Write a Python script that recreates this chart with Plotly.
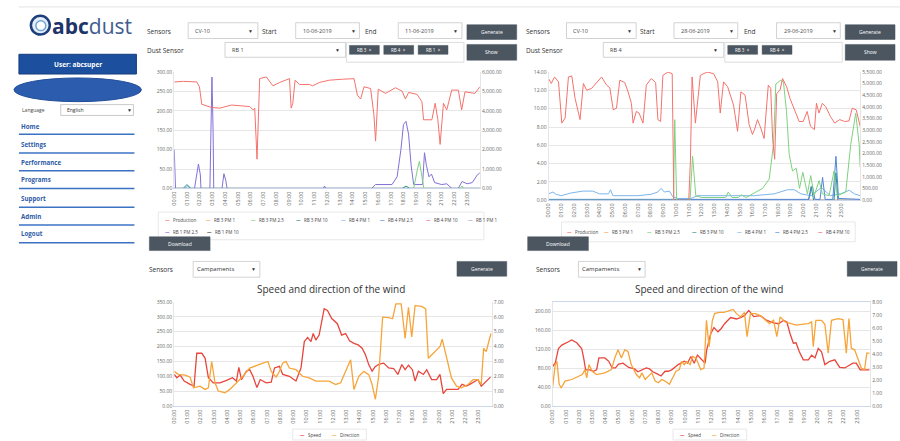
import plotly.graph_objects as go

W, H = 900, 441
def X(p): return p / W
def Y(p): return 1 - p / H

FONT = "Open Sans"

# ---------------- data ----------------
hour_ticks = [0, 1, 2, 3, 4, 5, 6, 7, 8, 9, 10, 11, 12, 13, 14, 15, 16, 17, 18, 19, 20, 21, 22, 23]
hour_labels = ["00:00", "01:00", "02:00", "03:00", "04:00", "05:00", "06:00", "07:00",
               "08:00", "09:00", "10:00", "11:00", "12:00", "13:00", "14:00", "15:00",
               "16:00", "17:00", "18:00", "19:00", "20:00", "21:00", "22:00", "23:00"]

# Chart 1 (CV-10, 10-06-2019 .. 11-06-2019)
c1_prod_t = [0.00, 0.73, 1.77, 1.98, 2.16, 2.55, 2.94, 3.59, 4.11, 4.50, 5.41, 5.93, 6.19, 6.32, 6.50,
             6.71, 7.23, 7.75, 8.27, 9.05, 9.18, 9.31, 9.49, 9.83, 10.61, 10.87, 11.39, 12.17, 13.21,
             14.12, 14.38, 14.64, 14.90, 15.42, 15.68, 15.81, 16.02, 16.59, 17.37, 17.89, 18.15, 18.41,
             19.06, 19.45, 19.58, 20.23, 20.49, 20.70, 20.88, 21.14, 21.40, 21.79, 22.31, 22.57, 22.83,
             23.61, 24.00]
c1_prod_v = [5490, 5520, 5490, 5240, 4340, 4270, 4170, 4140, 4250, 4300, 4250, 4220, 4050, 4140, 1510,
             5660, 5750, 5290, 5460, 5660, 4140, 4390, 5580, 5360, 5360, 5290, 5460, 5580, 5630,
             5660, 4810, 4610, 5240, 5150, 3800, 2440, 5120, 4900, 5190, 5020, 4610, 4950,
             4850, 4470, 3540, 3540, 4390, 3540, 2270, 4390, 4050, 5070, 5070, 4050, 4980,
             4900, 5240]
c1_rb1_pm25_t = [0.00, 0.10, 1.59, 1.82, 1.90, 2.05, 2.10, 2.80, 2.90, 2.96, 3.05, 3.10, 3.75, 3.90, 4.05,
                 4.15, 11.70, 11.80, 11.90, 15.50, 15.80, 17.10, 17.50, 17.80, 18.00, 18.20, 18.40, 18.60,
                 18.80, 19.50, 19.65, 19.80, 20.00, 20.20, 20.45, 21.00, 21.40, 21.80, 22.30, 22.60, 23.00,
                 23.40, 23.80, 24.00]
c1_rb1_pm25_v = [100, 0, 0, 40, 63, 35, 0, 0, 200, 287, 150, 0, 0, 38, 20,
                 0, 0, 6, 0, 0, 10, 10, 30, 100, 165, 173, 140, 60,
                 10, 10, 92, 60, 30, 37, 15, 10, 12, 0, 0, 18, 12,
                 15, 35, 40]
c1_rb3_pm25_t = [0.00, 18.80, 19.10, 19.25, 19.45, 19.60, 22.45, 22.60, 22.75, 24.00]
c1_rb3_pm25_v = [0, 0, 50, 70, 30, 0, 0, 6, 0, 0]
c1_rb3_pm10_t = [0.00, 0.70, 1.00, 1.30, 17.90, 18.20, 18.50, 24.00]
c1_rb3_pm10_v = [0, 0, 10, 0, 0, 6, 0, 0]
c1_rb4_pm1_t = [0.00, 0.80, 1.05, 1.30, 24.00]
c1_rb4_pm1_v = [0, 0, 6, 0, 0]
c1_flat_t = [0.00, 24.00]
c1_flat_v = [0, 0]

# Chart 2 (CV-10, 28-06-2019 .. 29-06-2019)
c2_prod_t = [0.00, 0.21, 0.47, 0.78, 1.04, 1.30, 1.56, 1.82, 2.08, 2.47,
             2.73, 2.99, 3.38, 3.90, 4.16, 4.55, 4.81, 5.07, 5.33, 5.59,
             5.98, 6.24, 6.50, 6.63, 6.89, 7.10, 7.41, 7.67, 8.06, 8.40,
             8.58, 8.79, 8.97, 9.36, 9.70, 9.83, 11.00, 11.13, 11.26, 11.52,
             11.91, 12.43, 12.95, 13.27, 13.47, 13.73, 14.05, 14.51, 14.83, 15.09,
             15.42, 15.74, 16.00, 16.20, 16.39, 16.65, 16.91, 17.24, 17.43, 17.58,
             17.74, 17.90, 18.16, 18.36, 18.68, 18.94, 19.33, 19.66, 19.98, 20.29,
             20.55, 20.86, 21.02, 21.22, 21.48, 21.74, 22.11, 22.45, 22.84, 23.23,
             23.57, 23.83, 24.14, 24.45]
c2_prod_v = [5220, 5010, 5290, 5080, 3310, 3530, 5290, 5330, 4370, 3460,
             5010, 4720, 4800, 5150, 5290, 4940, 4820, 3880, 3950, 5150,
             5050, 4650, 4160, 3310, 3810, 3740, 3310, 4940, 5220, 5050,
             3460, 3380, 5360, 5500, 5430, 0, 0, 1690, 5290, 3310,
             5360, 5500, 5430, 5080, 3740, 5080, 4870, 4090, 2960, 4650,
             4510, 3240, 2820, 3100, 3460, 3100, 2650, 4940, 4800, 2650,
             1760, 4580, 4720, 5220, 4870, 4370, 3810, 3380, 3380, 3810,
             3170, 3030, 4160, 3740, 4160, 4020, 3600, 3310, 3460, 3380,
             3400, 3950, 3880, 3170]
c2_rb3_pm25_t = [0.00, 9.80, 9.90, 10.05, 11.10, 11.30, 11.55, 12.00, 13.90, 14.10,
                 14.40, 14.90, 15.10, 15.50, 16.79, 17.31, 17.65, 17.83, 18.22, 18.43,
                 18.67, 18.88, 19.14, 19.43, 19.69, 19.95, 20.31, 20.57, 20.84, 21.23,
                 21.49, 22.01, 22.40, 22.66, 23.32, 23.71, 24.10, 24.37, 24.45]
c2_rb3_pm25_v = [0, 0, 8.8, 0, 0, 4.8, 0.5, 0.3, 0.3, 0.9,
                 0.3, 0.3, 0.6, 0.3, 1.3, 2.3, 6.1, 12.7, 13.1, 12.9,
                 9.7, 5.0, 3.2, 3.5, 1.3, 3.05, 0.7, 2.7, 0.5, 2.15,
                 0.7, 0.5, 3.2, 0.5, 0.9, 6.1, 9.5, 6.1, 3.6]
c2_rb4_pm1_t = [0.00, 0.34, 0.60, 0.99, 1.77, 2.69, 3.47, 4.00, 4.70, 4.86,
                5.04, 6.20, 7.00, 8.04, 8.57, 8.83, 9.09, 9.48, 9.74, 10.13,
                11.18, 11.70, 13.50, 16.10, 17.70, 18.75, 19.27, 19.80, 20.60, 21.40,
                22.10, 22.90, 23.60, 24.00, 24.45]
c2_rb4_pm1_v = [0.7, 0.9, 0.65, 0.5, 0.8, 1.0, 1.0, 0.7, 0.7, 1.15,
                0.5, 0.5, 0.5, 0.65, 0.9, 1.3, 0.9, 1.0, 0.4, 0.2,
                0.2, 0.5, 0.5, 0.5, 0.7, 1.15, 1.15, 0.7, 0.5, 1.4,
                0.5, 0.7, 1.1, 0.7, 0.5]
c2_rb4_pm25_t = [0.00, 20.40, 20.70, 20.90, 21.30, 21.50, 21.70, 22.30, 22.55, 22.75, 24.45]
c2_rb4_pm25_v = [0.1, 0.1, 1.6, 0.1, 0.1, 2.5, 0.1, 0.1, 4.8, 0.2, 0.1]
c2_rb3_pm10_t = [0.00, 20.40, 20.60, 20.80, 22.40, 22.55, 22.70, 24.45]
c2_rb3_pm10_v = [0, 0, 1.5, 0, 0, 3.0, 0, 0]
c2_flat_t = [0.00, 24.45]
c2_flat_v = [0, 0]

# Chart 3 (wind, left)
c3_dir_t = [0.0, 0.2, 0.45, 0.75, 1.2, 1.5, 1.7, 2.08, 2.33, 2.58,
            2.95, 3.45, 3.95, 4.4, 4.7, 4.88, 5.08, 5.45, 5.7, 5.95,
            6.25, 6.5, 6.95, 7.33, 7.58, 7.95, 8.2, 8.7, 9.2, 9.58,
            9.83, 10.08, 10.33, 10.5, 10.7, 10.95, 11.33, 11.58, 11.9, 12.33,
            12.65, 12.95, 13.25, 13.58, 13.9, 14.2, 14.45, 14.7, 14.95, 15.2,
            15.5, 15.83, 16.2, 16.58, 16.9, 17.2, 17.45, 17.7, 18.0, 18.2,
            18.45, 18.83, 19.08, 19.45, 19.83, 20.08, 20.33, 20.58, 20.95, 21.45,
            21.75, 22.08, 22.33, 22.7, 22.95, 23.2, 23.58, 23.9]
c3_dir_v = [107, 96, 105, 85, 74, 68, 178, 178, 162, 96,
            79, 79, 87, 96, 85, 131, 90, 118, 123, 101,
            63, 90, 79, 81, 129, 134, 107, 101, 85, 129,
            217, 231, 217, 244, 222, 239, 327, 321, 294, 277,
            239, 244, 220, 211, 206, 195, 173, 140, 118, 134,
            142, 145, 129, 127, 107, 140, 123, 138, 123, 85,
            118, 107, 123, 90, 90, 107, 43, 57, 57, 57,
            74, 68, 74, 85, 90, 68, 85, 98]
c3_spd_t = [0.0, 0.33, 0.83, 1.2, 1.45, 1.95, 2.33, 2.58, 2.83, 3.08,
            3.33, 3.83, 4.2, 4.7, 5.2, 5.7, 6.2, 6.7, 7.08, 7.33,
            7.7, 7.95, 8.2, 8.45, 8.7, 9.2, 9.7, 10.2, 10.7, 11.7,
            12.2, 12.58, 12.95, 13.33, 13.58, 13.95, 14.33, 14.7, 14.95, 15.2,
            15.45, 15.65, 15.75, 16.2, 16.5, 16.75, 17.15, 17.45, 17.7, 17.95,
            18.2, 18.7, 19.0, 19.2, 19.7, 20.08, 20.25, 20.58, 20.95, 21.33,
            21.7, 22.2, 22.58, 22.95, 23.2, 23.38, 23.58, 23.83, 23.95]
c3_spd_v = [2.35, 2.13, 2.1, 1.96, 1.25, 1.36, 1.14, 1.25, 3.01, 1.58,
            1.03, 0.92, 1.14, 1.58, 2.02, 2.57, 2.75, 2.9, 3.01, 2.35,
            1.96, 2.35, 2.9, 3.01, 2.57, 2.46, 2.02, 1.91, 1.69, 1.69,
            1.47, 1.58, 2.35, 3.12, 1.14, 2.02, 2.35, 2.13, 1.47, 0.48,
            2.02, 4.55, 5.98, 5.94, 5.87, 6.86, 6.86, 4.55, 6.64, 4.66,
            6.75, 6.7, 6.53, 3.23, 3.67, 4.0, 4.5, 3.23, 1.91, 1.36,
            1.25, 1.47, 1.8, 1.8, 1.47, 3.89, 3.67, 4.55, 4.88]

# Chart 4 (wind, right)
c4_dir_t = [0.0, 0.2, 0.45, 0.7, 1.2, 1.45, 1.83, 2.2, 2.35, 2.5,
            2.83, 3.08, 3.33, 3.5, 3.95, 4.25, 4.5, 4.75, 5.0, 5.33,
            5.75, 6.2, 6.45, 6.75, 7.08, 7.33, 7.58, 7.95, 8.2, 8.5,
            8.75, 9.0, 9.25, 9.5, 9.95, 10.2, 10.45, 10.7, 10.95, 11.33,
            11.53, 11.65, 11.95, 12.2, 12.5, 12.75, 13.0, 13.45, 13.9, 14.2,
            14.5, 14.83, 15.2, 15.7, 16.2, 16.7, 17.08, 17.45, 17.7, 17.95,
            18.2, 18.4, 18.65, 18.95, 19.33, 19.58, 19.83, 20.08, 20.33, 20.58,
            20.95, 21.33, 21.7, 22.08, 22.45, 22.7, 22.95, 23.25, 23.58, 23.95]
c4_dir_v = [84, 91, 122, 129, 136, 140, 134, 122, 102, 77,
            77, 74, 77, 102, 102, 95, 81, 81, 89, 91,
            82, 79, 73, 77, 81, 79, 73, 68, 64, 74,
            74, 77, 82, 88, 95, 91, 105, 91, 108, 96,
            91, 119, 153, 166, 157, 164, 174, 187, 184, 187,
            191, 202, 189, 191, 181, 176, 174, 181, 178, 153,
            133, 134, 115, 98, 98, 108, 102, 122, 115, 88,
            95, 98, 82, 81, 88, 91, 91, 77, 77, 77]
c4_spd_t = [0.0, 0.2, 0.33, 0.5, 0.65, 0.95, 1.45, 1.95, 2.25, 2.45,
            2.58, 2.75, 3.0, 3.33, 3.95, 4.45, 4.7, 4.95, 5.2, 5.45,
            5.7, 5.95, 6.33, 6.58, 6.75, 7.0, 7.25, 7.5, 7.75, 8.0,
            8.25, 8.5, 8.83, 9.08, 9.33, 9.58, 9.75, 9.95, 10.15, 10.4,
            10.58, 10.83, 11.2, 11.45, 11.63, 11.83, 12.08, 12.25, 12.58, 12.95,
            13.33, 13.65, 13.9, 14.2, 14.5, 14.7, 14.95, 15.33, 15.7, 16.08,
            16.4, 16.7, 16.95, 17.2, 17.58, 18.0, 18.45, 18.95, 19.33, 19.58,
            19.7, 19.9, 20.33, 20.58, 20.83, 21.08, 21.58, 21.95, 22.2, 22.4,
            22.58, 22.83, 23.08, 23.33, 23.58, 23.75, 23.95]
c4_spd_v = [1.43, 3.2, 3.45, 1.69, 1.43, 1.94, 2.06, 2.32, 2.44, 2.82,
            2.19, 3.2, 2.69, 2.44, 2.57, 2.82, 3.7, 4.33, 3.7, 4.33,
            4.2, 3.2, 2.44, 2.19, 2.57, 2.06, 2.32, 2.57, 1.94, 1.81,
            2.06, 1.94, 1.69, 2.19, 2.69, 2.82, 3.45, 3.2, 3.45, 3.2,
            3.83, 3.7, 2.82, 2.94, 6.59, 4.58, 6.59, 7.1, 7.2, 7.2,
            7.35, 7.42, 7.1, 6.85, 7.2, 5.34, 7.1, 7.1, 6.95, 6.59,
            6.34, 6.59, 5.34, 6.85, 6.47, 6.34, 6.22, 6.29, 6.34, 6.47,
            4.58, 6.59, 6.59, 6.29, 4.08, 6.59, 6.72, 6.64, 4.08, 6.72,
            4.45, 4.33, 3.7, 2.94, 2.82, 4.08, 4.08]

colors = {
    "Production": "#f4726c",
    "RB 3 PM 1": "#f7a35c",
    "RB 3 PM 2.5": "#7fd17f",
    "RB 3 PM 10": "#2b908f",
    "RB 4 PM 1": "#7cb5ec",
    "RB 4 PM 2.5": "#4f86d6",
    "RB 4 PM 10": "#f15c80",
    "RB 1 PM 1": "#a3a3c8",
    "RB 1 PM 2.5": "#8071d6",
    "RB 1 PM 10": "#434348",
}
wind_colors = {"Speed": "#e8453c", "Direction": "#f7a438"}

menu_items = ["Home", "Settings", "Performance", "Programs", "Support", "Admin", "Logout"]

# ---------------- figure ----------------
fig = go.Figure()

def line(t, v, color, xa, ya, name, width=1.0):
    fig.add_trace(go.Scatter(x=t, y=v, mode="lines", name=name, showlegend=False,
                             line=dict(color=color, width=width), xaxis=xa, yaxis=ya,
                             hoverinfo="skip"))

# chart 1
for nm in ["RB 3 PM 1", "RB 4 PM 2.5", "RB 4 PM 10", "RB 1 PM 1", "RB 1 PM 10"]:
    line(c1_flat_t, c1_flat_v, colors[nm], "x", "y", nm)
line(c1_rb4_pm1_t, c1_rb4_pm1_v, colors["RB 4 PM 1"], "x", "y", "RB 4 PM 1")
line(c1_rb3_pm10_t, c1_rb3_pm10_v, colors["RB 3 PM 10"], "x", "y", "RB 3 PM 10")
line(c1_rb1_pm25_t, c1_rb1_pm25_v, colors["RB 1 PM 2.5"], "x", "y", "RB 1 PM 2.5")
line(c1_rb3_pm25_t, c1_rb3_pm25_v, colors["RB 3 PM 2.5"], "x", "y", "RB 3 PM 2.5")
line(c1_prod_t, c1_prod_v, colors["Production"], "x", "y2", "Production")

# chart 2
for nm in ["RB 3 PM 1", "RB 4 PM 10"]:
    line(c2_flat_t, c2_flat_v, colors[nm], "x2", "y3", nm)
line(c2_rb4_pm1_t, c2_rb4_pm1_v, colors["RB 4 PM 1"], "x2", "y3", "RB 4 PM 1")
line(c2_rb3_pm10_t, c2_rb3_pm10_v, colors["RB 3 PM 10"], "x2", "y3", "RB 3 PM 10")
line(c2_rb4_pm25_t, c2_rb4_pm25_v, colors["RB 4 PM 2.5"], "x2", "y3", "RB 4 PM 2.5")
line(c2_rb3_pm25_t, c2_rb3_pm25_v, colors["RB 3 PM 2.5"], "x2", "y3", "RB 3 PM 2.5")
line(c2_prod_t, c2_prod_v, colors["Production"], "x2", "y4", "Production")

# chart 3 / 4
line(c3_spd_t, c3_spd_v, wind_colors["Direction"], "x3", "y6", "Direction", 1.3)
line(c3_dir_t, c3_dir_v, wind_colors["Speed"], "x3", "y5", "Speed", 1.3)
line(c4_spd_t, c4_spd_v, wind_colors["Direction"], "x4", "y8", "Direction", 1.3)
line(c4_dir_t, c4_dir_v, wind_colors["Speed"], "x4", "y7", "Speed", 1.3)

TICKF = dict(family=FONT, size=5, color="#666666")

def xax(d0, d1, anchor, rng, mirror=False):
    return dict(domain=[X(d0), X(d1)], anchor=anchor, range=rng, tickmode="array",
                tickvals=hour_ticks, ticktext=hour_labels, tickangle=-90,
                tickfont=dict(family=FONT, size=5.5, color="#666666"),
                showgrid=False, zeroline=False, showline=True, linecolor="#ccd6eb",
                linewidth=1, ticks="", mirror=mirror, fixedrange=True)

def yax(top, bot, anchor, rng, dtick, fmt, grid=True, side="left", overlay=None):
    d = dict(anchor=anchor, range=rng, dtick=dtick, tick0=0, tickformat=fmt, tickfont=TICKF,
             showgrid=grid, gridcolor="#e6e6e6", gridwidth=1, zeroline=False,
             showline=True, linecolor="#e6e6e6", ticks="", side=side, fixedrange=True)
    if overlay:
        d["overlaying"] = overlay
    else:
        d["domain"] = [Y(bot), Y(top)]
    return d

layout = dict(
    width=W, height=H, margin=dict(l=0, r=0, t=0, b=0),
    paper_bgcolor="white", plot_bgcolor="white", showlegend=False,
    font=dict(family=FONT, color="#333333"),
    xaxis=xax(171, 478, "y", [0, 24]),
    yaxis=yax(70, 188, "x", [0, 300], 50, ".2f"),
    yaxis2=yax(70, 188, "x", [0, 6000], 1000, ",.2f", grid=False, side="right", overlay="y"),
    xaxis2=xax(547, 860, "y3", [0, 24.45]),
    yaxis3=yax(70, 200, "x2", [0, 14], 2, ".2f"),
    yaxis4=yax(70, 200, "x2", [0, 5500], 500, ",.2f", grid=False, side="right", overlay="y3"),
    xaxis3=xax(171, 490, "y5", [0, 24]),
    yaxis5=yax(303, 409, "x3", [0, 350], 50, ".2f"),
    yaxis6=yax(303, 409, "x3", [0, 7], 1, ".2f", grid=False, side="right", overlay="y5"),
    xaxis4=xax(551, 870, "y7", [0, 24], mirror=True),
    yaxis7=yax(303, 409, "x4", [0, 220], 40, ".2f"),
    yaxis8=yax(303, 409, "x4", [0, 8], 1, ".2f", grid=False, side="right", overlay="y7"),
)
fig.update_layout(**layout)

shapes = []
ann = []

def rect(x0, y0, x1, y1, fill="white", lc="#cccccc", lw=1, kind="rect"):
    shapes.append(dict(type=kind, xref="paper", yref="paper", x0=X(x0), x1=X(x1),
                       y0=Y(y1), y1=Y(y0), fillcolor=fill, line=dict(color=lc, width=lw),
                       layer="below"))

def hline(x0, x1, y, color, width=1):
    shapes.append(dict(type="line", xref="paper", yref="paper", x0=X(x0), x1=X(x1),
                       y0=Y(y), y1=Y(y), line=dict(color=color, width=width)))

def text(x, y, s, size=6, color="#333333", anchor="left", family=FONT):
    ann.append(dict(x=X(x), y=Y(y), xref="paper", yref="paper", text=s, showarrow=False,
                    xanchor=anchor, yanchor="middle", borderpad=0,
                    font=dict(size=size, color=color, family=family)))

BTN = "#4b5661"

# top line
hline(15, 900, 4, "#e3e3e3")

# ---- sidebar ----
shapes.append(dict(type="circle", xref="paper", yref="paper", x0=X(27), x1=X(46), y0=Y(32), y1=Y(13),
                   fillcolor="#e4eef8", line=dict(color="#1d3f7c", width=2.5)))
shapes.append(dict(type="circle", xref="paper", yref="paper", x0=X(32), x1=X(42), y0=Y(28), y1=Y(18),
                   fillcolor="white", line=dict(color="#6fa6d8", width=1.5)))
text(47, 23, "<b>abc</b><span style='color:#3f5d8f'>dust</span>", 21, "#1d3568")
rect(15, 52, 133, 72, "#1c4f9e", "#163f80", 1)
text(74, 62, "<b>User: abcsuper</b>", 6.5, "#ffffff", "center")
shapes.append(dict(type="circle", xref="paper", yref="paper", x0=X(10), x1=X(138), y0=Y(100), y1=Y(76),
                   fillcolor="#2c5cad", line=dict(color="#234f99", width=1)))
text(17, 108, "Language", 5, "#444444")
rect(57, 103, 130, 114, "white", "#bbbbbb", 0.8)
text(62, 108.5, "English", 5, "#333333")
text(126, 108.5, "▼", 5, "#333333", "center")
menu_y = [125, 143, 162, 179, 198, 216, 234]
line_y = [133, 152, 170, 188, 207, 225, 243]
for name, yy, ly in zip(menu_items, menu_y, line_y):
    text(16, yy, "<b>" + name + "</b>", 6.2, "#2d5aa6")
    hline(15, 131, ly, "#3a72c4", 1.5)

# ---- header controls ----
def header(ox, start, end, sensor, tags):
    text(ox + 3, 29, "Sensors", 6.5, "#333333")
    rect(ox + 45, 20, ox + 115, 36, "white", "#c8c8c8", 0.8)
    text(ox + 51, 28, "CV-10", 5.5, "#444444")
    text(ox + 108, 28, "▼", 5, "#333333", "center")
    text(ox + 118, 29, "Start", 6.5, "#333333")
    rect(ox + 153, 20, ox + 217, 36, "white", "#c8c8c8", 0.8)
    text(ox + 159, 28, start, 5.5, "#444444")
    text(ox + 211, 28, "▼", 5, "#333333", "center")
    text(ox + 222, 29, "End", 6.5, "#333333")
    rect(ox + 256, 20, ox + 320, 36, "white", "#c8c8c8", 0.8)
    text(ox + 262, 28, end, 5.5, "#444444")
    text(ox + 314, 28, "▼", 5, "#333333", "center")
    rect(ox + 325, 22, ox + 375, 37, BTN, BTN, 0.5)
    text(ox + 350, 29.5, "Generate", 5, "#ffffff", "center")
    text(ox + 3, 48, "Dust Sensor", 6.5, "#333333")
    rect(ox + 82, 40, ox + 203, 55, "white", "#c8c8c8", 0.8)
    text(ox + 88, 47.5, sensor, 5.5, "#444444")
    text(ox + 195, 47.5, "▼", 5, "#333333", "center")
    rect(ox + 204, 40, ox + 322, 60, "white", "#d6d6d6", 0.8)
    for i, tg in enumerate(tags):
        x0 = ox + 207 + i * 34.5
        rect(x0, 43, x0 + 30, 52, BTN, BTN, 0.5)
        text(x0 + 15, 47.5, tg + "  ×", 4.5, "#ffffff", "center")
    rect(ox + 325, 42, ox + 375, 58, BTN, BTN, 0.5)
    text(ox + 350, 50, "Show", 5, "#ffffff", "center")

header(140, "10-06-2019", "11-06-2019", "RB 1", ["RB 3", "RB 4", "RB 1"])
header(520, "28-06-2019", "29-06-2019", "RB 4", ["RB 3", "RB 4"])

# ---- legends of dust charts ----
def legend_entry(x, y, name, color):
    text(x, y, "<span style='color:%s'><b>—</b></span>   %s" % (color, name), 4.5, "#444444")

rect(155, 212, 482, 240, "white", "#e2e2e2", 0.8)
leg1_row1 = ["Production", "RB 3 PM 1", "RB 3 PM 2.5", "RB 3 PM 10", "RB 4 PM 1", "RB 4 PM 2.5",
             "RB 4 PM 10", "RB 1 PM 1"]
leg1_x1 = [161, 202, 247, 292, 337, 377, 423, 465]
for nm, xx in zip(leg1_row1, leg1_x1):
    legend_entry(xx, 219.5, nm, colors[nm])
for nm, xx in zip(["RB 1 PM 2.5", "RB 1 PM 10"], [161, 203]):
    legend_entry(xx, 232, nm, colors[nm])

rect(560, 222, 855, 242, "white", "#e2e2e2", 0.8)
leg2 = ["Production", "RB 3 PM 1", "RB 3 PM 2.5", "RB 3 PM 10", "RB 4 PM 1", "RB 4 PM 2.5", "RB 4 PM 10"]
leg2_x = [565, 602, 645, 690, 735, 773, 817]
for nm, xx in zip(leg2, leg2_x):
    legend_entry(xx, 232, nm, colors[nm])

for ox in (146, 526):
    rect(ox, 237, ox + 61, 251, BTN, BTN, 0.5)
    text(ox + 30.5, 244, "Download", 5, "#ffffff", "center")

# ---- wind headers ----
def wind_header(sx, dx0, gx0, title_x):
    text(sx, 270, "Sensors", 6.5, "#333333")
    rect(dx0, 262, dx0 + 67, 278, "white", "#c8c8c8", 0.8)
    text(dx0 + 3, 270, "Campaments", 6, "#333333")
    text(dx0 + 61, 270, "▼", 5, "#333333", "center")
    rect(gx0, 262, gx0 + 50, 277, BTN, BTN, 0.5)
    text(gx0 + 25, 269.5, "Generate", 5, "#ffffff", "center")
    text(title_x, 290, "Speed and direction of the wind", 10, "#333333", "center")

wind_header(145, 190, 455, 328)
wind_header(533, 577, 847, 708)

for lx in (290, 672):
    rect(lx, 432, lx + 74, 443, "white", "#e2e2e2", 0.8)
    legend_entry(lx + 6, 437.5, "Speed", wind_colors["Speed"])
    legend_entry(lx + 38, 437.5, "Direction", wind_colors["Direction"])

fig.update_layout(shapes=shapes, annotations=ann)
fig.write_html("out.html", config={"displayModeBar": False},
               post_script="document.body.style.margin='0';document.body.style.padding='0';")
